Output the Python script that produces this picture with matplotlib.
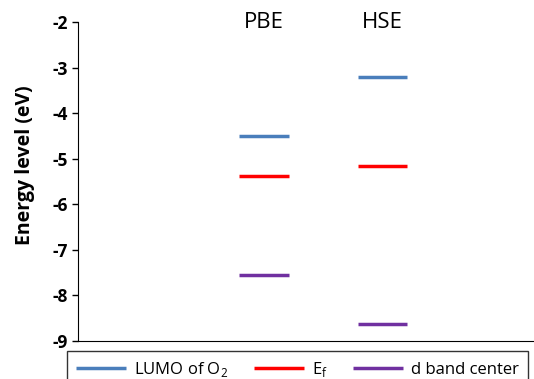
import matplotlib
matplotlib.use("Agg")
import matplotlib.pyplot as plt
import numpy as np

plt.rcParams.update({"font.family": ["Open Sans", "DejaVu Sans"], "font.size": 11})

# energy levels (eV)
methods = ["PBE", "HSE"]
lumo_o2 = [-4.50, -3.21]
e_fermi = [-5.38, -5.16]
d_center = [-7.55, -8.63]
yticks = [-2, -3, -4, -5, -6, -7, -8, -9]

x = np.array([1, 2]); hw = 0.21

fig = plt.figure(figsize=(5.34, 3.79), dpi=100)
ax = fig.add_axes([78/534, 1 - 341/379, 1 - 78/534, (341 - 22)/379])

ax.hlines(lumo_o2, x - hw, x + hw, color="#4a7ebb", lw=2.5, label=r"LUMO of O$_\mathregular{2}$")
ax.hlines(e_fermi, x - hw, x + hw, color="#ff0000", lw=2.5, label=r"E$_\mathregular{f}$")
ax.hlines(d_center, x - hw, x + hw, color="#7030a0", lw=2.5, label="d band center")

for xi, m in zip(x, methods):
    ax.text(xi, -2, m, ha="center", va="center", fontsize=16)

ax.set_xlim(1 - 186/118.5, 1 + (456 - 186)/118.5)
ax.set_ylim(-9, -2)
ax.set_yticks(yticks)
ax.set_yticklabels([str(t) for t in yticks], fontweight="bold", fontsize=12.5)
ax.set_xticks([])
ax.set_ylabel("Energy level (eV)", fontweight="bold", fontsize=14)
ax.yaxis.set_label_coords(-0.095, 0.55)
ax.spines["top"].set_visible(False)
ax.spines["right"].set_visible(False)
ax.tick_params(axis="y", direction="out", length=4, width=1, pad=3)

h, l = ax.get_legend_handles_labels()
leg = fig.legend(h, l, loc="upper left", bbox_to_anchor=(67/534, 1 - 351/379),
                 ncol=3, frameon=True, fancybox=False, edgecolor="black",
                 fontsize=12, handlelength=3.0, handletextpad=0.5, columnspacing=1.5,
                 borderaxespad=0, borderpad=0.55)
leg.get_frame().set_linewidth(1.0)

fig.savefig("out.png", dpi=100)
